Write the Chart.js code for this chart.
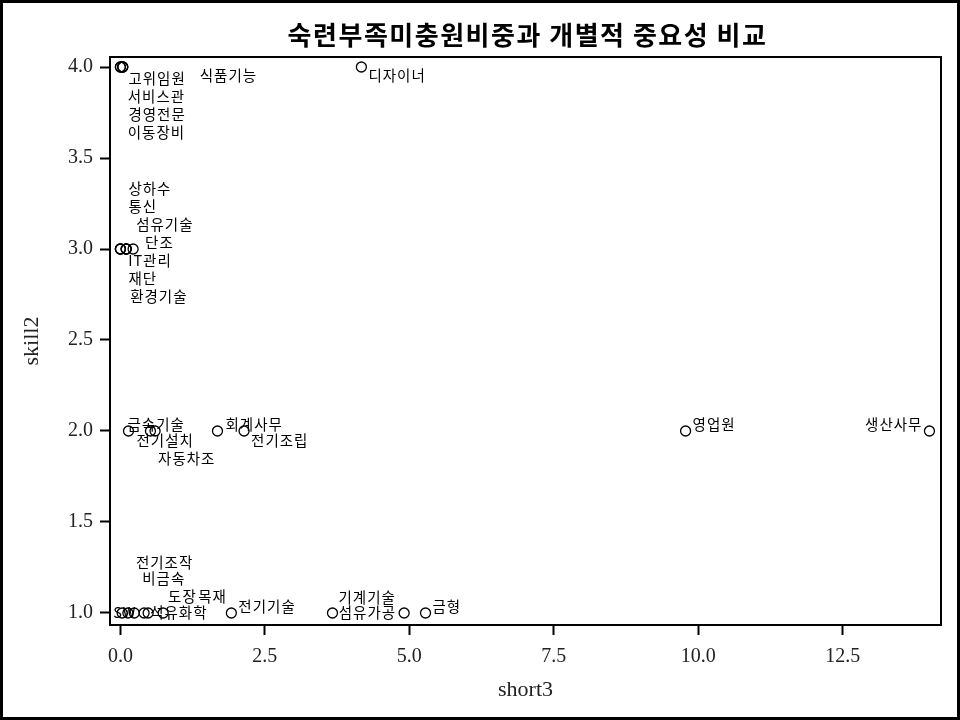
<!DOCTYPE html>
<html>
<head>
<meta charset="utf-8">
<script src="https://cdn.jsdelivr.net/npm/chart.js@4.4.1/dist/chart.umd.min.js"></script>
<style>
  html, body { margin: 0; padding: 0; background: #fff; }
  canvas { display: block; }
</style>
</head>
<body>
<canvas id="chart" width="960" height="720"></canvas>
<script>
// Occupation labels and their values (short3 on x, skill2 on y).
const names = [
  '고위임원', '서비스관', '경영전문', '이동장비', '식품기능', '디자이너',
  '상하수', '통신', '섬유기술', '단조', 'IT관리', '재단', '환경기술',
  '금속기술', '전기설치', '자동차조', '회계사무', '전기조립', '영업원', '생산사무',
  'SW', '전기조작', '비금속', '도장', '석유화학', '목재', '전기기술', '기계기술', '섬유가공', '금형'
];
const short3 = [
  0, 0.04, 0, 0.04, 0.04, 4.17,
  0, 0, 0.1, 0.22, 0.1, 0, 0.1,
  0.14, 0.52, 0.6, 1.68, 2.14, 9.78, 14.0,
  0.03, 0.13, 0.24, 0.41, 0.48, 0.74, 1.92, 3.67, 4.91, 5.28
];
const skill2 = [
  4, 4, 4, 4, 4, 4,
  3, 3, 3, 3, 3, 3, 3,
  2, 2, 2, 2, 2, 2, 2,
  1, 1, 1, 1, 1, 1, 1, 1, 1, 1
];
const xTicks = [0, 2.5, 5, 7.5, 10, 12.5];
const yTicks = [1, 1.5, 2, 2.5, 3, 3.5, 4];

// Label placement (pixel offsets from each point), kept apart from the data.
const labelDx = [8, 5, 8, 5, 77, 7, 8, 8, 10, 12, 2, 8, 4, -1, -14, 3, 8, 7, 7, -7, -9, 8, 8, 24, 2, 35, 7, 6, -8, 7];
const labelDy = [11, 29, 47, 65, 8, 8, -61, -43, -25, -7, 11, 29, 47, -7, 9, 27, -7, 9, -7, -7, -1, -51, -35, -17, -1, -17, -7, -16, -1, -7];
const labelRight = [19, 28]; // indices whose label sits left of the point

const TITLE = '숙련부족미충원비중과 개별적 중요성 비교';
const KFONT = '"Noto Sans CJK KR", "Noto Sans", sans-serif';
const NFONT = '"Liberation Serif", "DejaVu Serif", serif';

const frame = {
  id: 'frame',
  beforeDraw(chart) {
    const { ctx, width, height } = chart;
    ctx.save();
    ctx.fillStyle = '#fff';
    ctx.fillRect(0, 0, width, height);
    ctx.restore();
  },
  beforeDatasetsDraw(chart) {
    const { ctx } = chart;
    const meta = chart.getDatasetMeta(0);
    ctx.save();
    ctx.font = '14.5px ' + KFONT;
    ctx.letterSpacing = '1px';
    ctx.fillStyle = '#000';
    ctx.textBaseline = 'middle';
    meta.data.forEach((pt, i) => {
      ctx.textAlign = labelRight.includes(i) ? 'right' : 'left';
      ctx.fillText(names[i], pt.x + labelDx[i], pt.y + labelDy[i]);
    });
    ctx.restore();
  },
  afterDraw(chart) {
    const { ctx, chartArea: a, width, height } = chart;
    ctx.save();
    ctx.strokeStyle = '#000';
    ctx.lineWidth = 2;
    ctx.strokeRect(a.left, a.top, a.right - a.left, a.bottom - a.top);
    ctx.lineWidth = 4;
    ctx.strokeRect(1, 1, width - 2, height - 2);
    ctx.font = 'bold 26px ' + KFONT;
    ctx.letterSpacing = '1.5px';
    ctx.fillStyle = '#000';
    ctx.textAlign = 'center';
    ctx.textBaseline = 'middle';
    ctx.fillText(TITLE, (a.left + a.right) / 2 + 2, 35);
    ctx.restore();
  }
};

new Chart(document.getElementById('chart'), {
  type: 'scatter',
  data: {
    datasets: [{
      data: short3.map((x, i) => ({ x, y: skill2[i] })),
      pointStyle: 'circle',
      pointRadius: 5,
      pointBorderWidth: 1.3,
      pointBorderColor: '#000',
      pointBackgroundColor: 'rgba(0,0,0,0)',
    }],
  },
  options: {
    responsive: false,
    animation: false,
    layout: { padding: { top: 57, right: 19, bottom: 0, left: 0 } },
    plugins: { legend: { display: false }, tooltip: { enabled: false }, title: { display: false } },
    scales: {
      x: {
        type: 'linear',
        min: -0.18, max: 14.2,
        afterFit: s => { s.height = 95; },
        afterBuildTicks: s => { s.ticks = xTicks.map(v => ({ value: v })); },
        ticks: { callback: v => v.toFixed(1), color: '#222', padding: 10, maxRotation: 0, font: { family: NFONT, size: 20 } },
        grid: { drawOnChartArea: false, drawTicks: true, tickLength: 10, tickWidth: 2, tickColor: '#000' },
        border: { display: true, color: '#000', width: 2 },
        title: { display: true, text: 'short3', color: '#222', font: { family: NFONT, size: 22 }, padding: { top: 0, bottom: 17 } },
      },
      y: {
        type: 'linear',
        min: 0.934, max: 4.055,
        afterFit: s => { s.width = 110; },
        afterBuildTicks: s => { s.ticks = yTicks.map(v => ({ value: v })); },
        ticks: { callback: v => v.toFixed(1), color: '#222', padding: 7, font: { family: NFONT, size: 20 } },
        grid: { drawOnChartArea: false, drawTicks: true, tickLength: 10, tickWidth: 2, tickColor: '#000' },
        border: { display: true, color: '#000', width: 2 },
        title: { display: true, text: 'skill2', color: '#222', font: { family: NFONT, size: 22 }, padding: { top: 19, bottom: 0 } },
      },
    },
  },
  plugins: [frame],
});
</script>
</body>
</html>
